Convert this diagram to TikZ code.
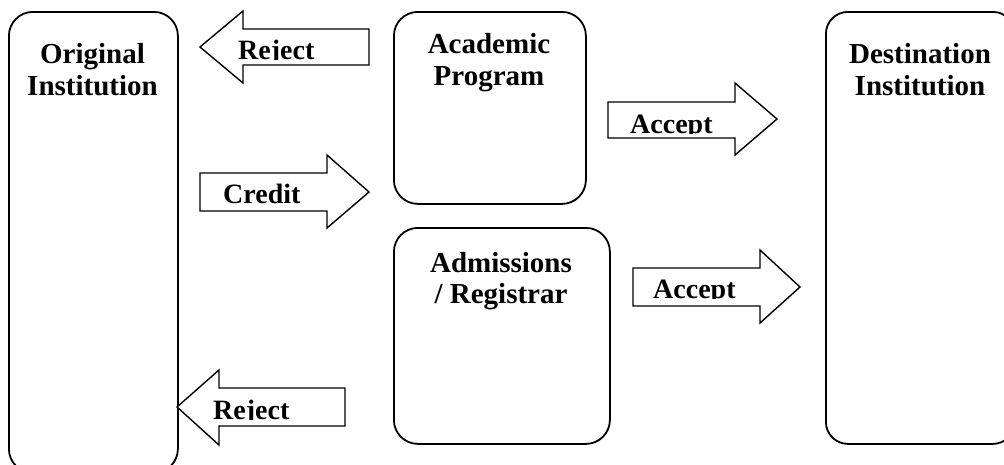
\documentclass[tikz,border=0pt]{standalone}
\usepackage{fontspec}
\setmainfont{Liberation Serif}
\begin{document}
\begin{tikzpicture}[x=1pt,y=-1pt,
  box/.style={draw=black, line width=1.8pt, rounded corners=24pt, inner sep=0pt, anchor=north west},
  blockarrow/.style={draw=black, line width=1.4pt, fill=white, line join=miter},
  title/.style={font=\fontsize{29}{33}\selectfont\bfseries, anchor=base, inner sep=0pt},
  lbl/.style={font=\fontsize{28}{32}\selectfont\bfseries, anchor=base west, inner sep=0pt}]
\useasboundingbox (0,0) rectangle (1004,464);

% boxes
\node[box, minimum width=169pt, minimum height=461pt] (orig) at (8,11) {};
\node[box, minimum width=192pt, minimum height=192pt] (acad) at (393,11) {};
\node[box, minimum width=216pt, minimum height=216pt] (adm) at (393,227) {};
\node[box, minimum width=189pt, minimum height=432pt, rounded corners=22pt] (dest) at (825,11) {};

% titles
\node[title] (origA) at (92.5,63) {Original};
\node[title] (origB) at (92.5,95.5) {Institution};
\node[title] (acadA) at (489,53) {Academic};
\node[title] (acadB) at (489,85) {Program};
\node[title] (admA) at (501,272) {Admissions};
\node[title] (admB) at (501,303) {/ Registrar};
\node[title] (destA) at (920,63) {Destination};
\node[title] (destB) at (920,95.5) {Institution};

% block arrows
\draw[blockarrow] (200,47) -- (243,11) -- (243,29) -- (369,29) -- (369,65) -- (243,65) -- (243,83) -- cycle;
\draw[blockarrow] (200,173) -- (327,173) -- (327,155) -- (369,192) -- (327,228) -- (327,211) -- (200,211) -- cycle;
\draw[blockarrow] (608,102) -- (735,102) -- (735,83) -- (777,119) -- (735,155) -- (735,138) -- (608,138) -- cycle;
\draw[blockarrow] (633,268) -- (760,268) -- (760,250) -- (800,287) -- (760,323) -- (760,306) -- (633,306) -- cycle;
\draw[blockarrow] (177,407) -- (219,370) -- (219,388) -- (345,388) -- (345,426) -- (219,426) -- (219,445) -- cycle;

% arrow labels (clipped at the baseline as in the reference)
\begin{scope}
\clip (230,30) rectangle (368,59.5);
\node[lbl] (rej1) at (238,59.5) {Reject};
\end{scope}
\begin{scope}
\clip (201,174) rectangle (326,203);
\node[lbl] (cred) at (223,203) {Credit};
\end{scope}
\begin{scope}
\clip (609,103) rectangle (734,133);
\node[lbl] (acc1) at (630,133) {Accept};
\end{scope}
\begin{scope}
\clip (634,269) rectangle (759,298);
\node[lbl] (acc2) at (653,298) {Accept};
\end{scope}
\begin{scope}
\clip (205,389) rectangle (344,419);
\node[lbl] (rej2) at (213,419) {Reject};
\end{scope}
\end{tikzpicture}
\end{document}
